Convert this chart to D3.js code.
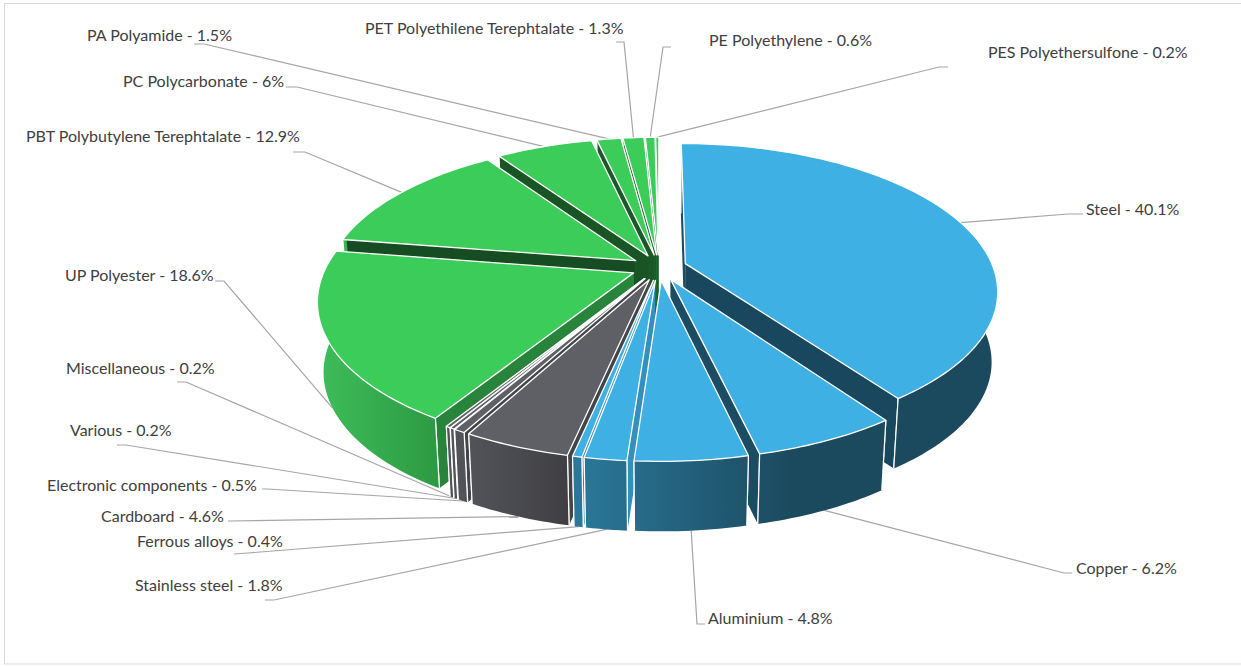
<!DOCTYPE html>
<html>
<head>
<meta charset="utf-8">
<script src="https://cdn.jsdelivr.net/npm/d3@7"></script>
<style>
  html, body { margin: 0; padding: 0; background: #fff; }
  svg { display: block; }
  text { font-family: Lato, "Open Sans", sans-serif; font-size: 16px; fill: #404040; }
</style>
</head>
<body>
<div id="chart"></div>
<script>
//////////// data
const materials = ["Steel", "Copper", "Aluminium", "Stainless steel", "Ferrous alloys", "Cardboard",
  "Electronic components", "Various", "Miscellaneous", "UP Polyester", "PBT Polybutylene Terephtalate",
  "PC Polycarbonate", "PA Polyamide", "PET Polyethilene Terephtalate", "PE Polyethylene", "PES Polyethersulfone"];
const shares = [40.1, 6.2, 4.8, 1.8, 0.4, 4.6, 0.5, 0.2, 0.2, 18.6, 12.9, 6, 1.5, 1.3, 0.6, 0.2];
const families = ["metal", "metal", "metal", "metal", "metal", "other", "other", "other", "other",
  "plastic", "plastic", "plastic", "plastic", "plastic", "plastic", "plastic"];

//////////// layout (not data)
const width = 1241, height = 666;
const labelX = [1086, 1076, 708, 135, 137, 101, 47, 70, 66, 65, 26, 123, 87, 365, 709, 988];
const labelY = [208, 567, 617, 584, 540, 515, 484, 429, 367, 274, 135, 80, 34, 27, 39, 51];
// start of the leader and its elbow, next to the label
const leaderStart = [[1083,214],[1072,573],[705,624],[265,600],[234,554],[228,521],[262,489],[117,445],
  [177,382],[215,281],[293,152],[286,87],[194,44],[616,42],[671,47],[948,67]];
const leaderElbow = [[1068,214],[1064,573],[697,624],[274,600],[248,553],[228,521],[267,489],[126,445],
  [186,382],[224,281],[305,152],[297,87],[204,44],[624,42],[663,47],[939,67]];
// where the leader reaches the slice: fraction of its span, 0 = top rim, 1 = bottom rim
const leaderFrac = [0.5, 0.5, 0.5, 0.5, 0.5, 0.5, 0.5, 0.5, 0.5, 0.5, 0.5, 0.5, 0.5, 0.5, 0.5, 0.5];
const leaderLevel = [0, 1, 1, 1, 1, 1, 1, 1, 1, 1, 0, 0, 0, 0, 0, 0];

const centerX = 659, centerY = 267.5;
const radiusX = 308, radiusY = 143;   // disc size on the screen
const perspective = 0.18;
const explode = 0.09;
const depth = 70, bottomShrink = 0.982;

const topColor = {metal: "#3eb0e4", plastic: "#3ccc5a", other: "#5f6065"};
const wallStops = {
  metal:   {x1: 580, x2: 790, from: "#2b7799", to: "#1b4a5f"},
  plastic: {x1: 325, x2: 450, from: "#3dbb58", to: "#2b9640"},
  other:   {x1: 470, x2: 570, from: "#525359", to: "#3f3f43"}
};

const svg = d3.select("#chart").append("svg").attr("width", width).attr("height", height);

svg.append("rect")
  .attr("x", 4.5).attr("y", 3.5).attr("width", 1300).attr("height", 660.5)
  .attr("fill", "#fff").attr("stroke", "#d9d9d9");

const defs = svg.append("defs");
Object.keys(wallStops).forEach(function (k) {
  const w = wallStops[k];
  const g = defs.append("linearGradient").attr("id", "wall-" + k)
    .attr("gradientUnits", "userSpaceOnUse")
    .attr("x1", w.x1).attr("x2", w.x2).attr("y1", 0).attr("y2", 0);
  g.append("stop").attr("offset", 0).attr("stop-color", w.from);
  g.append("stop").attr("offset", 1).attr("stop-color", w.to);
});

//////////// projection of the disc
const xs = d3.scaleLinear().domain([-1, 1]).range([centerX - radiusX, centerX + radiusX]);
const ys = d3.scaleLinear().domain([-1, 1]).range([centerY - radiusY, centerY + radiusY]);

function project(u, v, level) {
  const s = 1 / (1 - perspective * v);
  let x = xs(u * s), y = ys(v * s);
  if (level) {
    x = centerX + (x - centerX) * (1 - (1 - bottomShrink) * level);
    y = y + depth * level;
  }
  return [x, y];
}

const arcs = d3.pie().sort(null).value(function (d) { return d; })(shares);

const slices = arcs.map(function (a, i) {
  const mid = (a.startAngle + a.endAngle) / 2;
  const ox = explode * Math.sin(mid), oy = -explode * Math.cos(mid);
  return {
    i: i, family: families[i], start: a.startAngle, end: a.endAngle, mid: mid,
    // r 0 = apex, r 1 = rim
    point: function (angle, r, level) {
      return project(ox + r * Math.sin(angle), oy - r * Math.cos(angle), level);
    }
  };
});

function rimAngles(s, from, to) {
  const n = Math.max(2, Math.ceil((to - from) / 0.02));
  return d3.range(n + 1).map(function (k) { return from + (to - from) * k / n; });
}

const line = d3.line();
const closed = function (pts) { return line(pts) + "Z"; };

// shade of a cut face, by the direction its normal points to (degrees clockwise from the back)
const faceShade = d3.scaleLinear().domain([94, 121, 188, 257, 360]).range([0.82, 0.65, 0.37, 0.43, 0.43]).clamp(true);
function faceColor(s, normalDeg) {
  const f = s.family === "other" ? 0.72 : faceShade(normalDeg);
  return d3.interpolateRgb("#000", topColor[s.family])(f);
}

//////////// leaders go behind the pie
const gLeaders = svg.append("g");
slices.forEach(function (s) {
  const a = s.start + (s.end - s.start) * leaderFrac[s.i];
  const end = s.point(a, 1, leaderLevel[s.i]);
  gLeaders.append("path")
    .attr("d", line([leaderStart[s.i], leaderElbow[s.i], end]))
    .attr("fill", "none").attr("stroke", "#a6a6a6").attr("stroke-width", 1.2);
});

//////////// slices, back to front
const gPie = svg.append("g");
const order = slices.slice().sort(function (a, b) { return (-Math.cos(a.mid)) - (-Math.cos(b.mid)); });

order.forEach(function (s) {
  const g = gPie.append("g");
  const apexTop = s.point(s.mid, 0, 0), apexBottom = s.point(s.mid, 0, 1);

  // cut faces, the one turned away first
  const faces = [
    {angle: s.start, normal: s.start - Math.PI / 2},
    {angle: s.end, normal: s.end + Math.PI / 2}
  ].sort(function (a, b) { return (-Math.cos(a.normal)) - (-Math.cos(b.normal)); });

  faces.forEach(function (f) {
    const deg = ((f.normal * 180 / Math.PI) % 360 + 360) % 360;
    const rimTop = s.point(f.angle, 1, 0), rimBottom = s.point(f.angle, 1, 1);
    g.append("path").attr("d", closed([apexTop, rimTop, rimBottom, apexBottom]))
      .attr("fill", faceColor(s, deg));
    g.append("path").attr("d", line([rimTop, rimBottom]))
      .attr("stroke", "#fff").attr("stroke-width", 1.2).attr("fill", "none");
  });

  // outer wall, only where it turns to the viewer
  const from = Math.max(s.start, Math.PI * 0.44), to = Math.min(s.end, Math.PI * 1.56);
  if (to > from) {
    const angles = rimAngles(s, from, to);
    const upper = angles.map(function (a) { return s.point(a, 1, 0); });
    const lower = angles.map(function (a) { return s.point(a, 1, 1); }).reverse();
    g.append("path").attr("d", closed(upper.concat(lower)))
      .attr("fill", "url(#wall-" + s.family + ")");
    if (to === s.end) {
      g.append("path").attr("d", line([s.point(to, 1, 0), s.point(to, 1, 1)]))
        .attr("stroke", "#fff").attr("stroke-width", 1.2).attr("fill", "none");
    }
    if (from === s.start) {
      g.append("path").attr("d", line([s.point(from, 1, 0), s.point(from, 1, 1)]))
        .attr("stroke", "#fff").attr("stroke-width", 1.2).attr("fill", "none");
    }
  }

  // top
  const rim = rimAngles(s, s.start, s.end).map(function (a) { return s.point(a, 1, 0); });
  g.append("path").attr("d", closed([apexTop].concat(rim)))
    .attr("fill", topColor[s.family])
    .attr("stroke", "#fff").attr("stroke-width", 1.3).attr("stroke-linejoin", "round");
});

//////////// labels
svg.append("g").selectAll("text")
  .data(materials)
  .join("text")
  .attr("x", function (d, i) { return labelX[i]; })
  .attr("y", function (d, i) { return labelY[i]; })
  .attr("dominant-baseline", "central")
  .text(function (d, i) { return d + " - " + shares[i] + "%"; });
</script>
</body>
</html>
